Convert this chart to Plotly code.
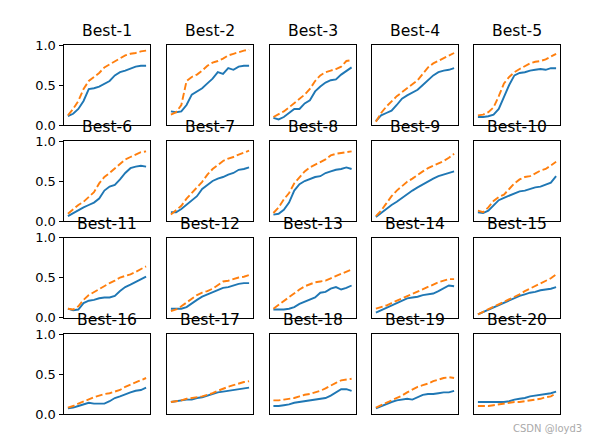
import plotly.graph_objects as go
from plotly.subplots import make_subplots

titles = [f"Best-{i}" for i in range(1, 21)]
y_tick_vals = [0.0, 0.5, 1.0]
y_tick_text = ["0.0", "0.5", "1.0"]

blue_01 = [0.11, 0.14, 0.2, 0.3, 0.45, 0.46, 0.48, 0.52, 0.55, 0.62, 0.66, 0.68, 0.71, 0.73, 0.74, 0.74]
orange_01 = [0.12, 0.2, 0.3, 0.45, 0.55, 0.6, 0.65, 0.72, 0.76, 0.79, 0.83, 0.87, 0.89, 0.9, 0.92, 0.93]
blue_02 = [0.17, 0.16, 0.17, 0.25, 0.38, 0.42, 0.46, 0.52, 0.58, 0.66, 0.64, 0.71, 0.69, 0.73, 0.74, 0.74]
orange_02 = [0.13, 0.16, 0.25, 0.55, 0.6, 0.63, 0.68, 0.74, 0.78, 0.8, 0.83, 0.87, 0.89, 0.91, 0.93, 0.94]
blue_03 = [0.09, 0.07, 0.1, 0.15, 0.2, 0.2, 0.27, 0.31, 0.42, 0.48, 0.53, 0.56, 0.57, 0.63, 0.67, 0.72]
orange_03 = [0.1, 0.13, 0.17, 0.22, 0.27, 0.33, 0.38, 0.45, 0.55, 0.62, 0.66, 0.68, 0.7, 0.73, 0.8, 0.81]
blue_04 = [0.05, 0.12, 0.15, 0.18, 0.25, 0.33, 0.37, 0.41, 0.44, 0.5, 0.56, 0.62, 0.66, 0.68, 0.69, 0.71]
orange_04 = [0.04, 0.15, 0.23, 0.3, 0.36, 0.41, 0.46, 0.51, 0.56, 0.64, 0.72, 0.77, 0.8, 0.83, 0.87, 0.9]
blue_05 = [0.1, 0.1, 0.11, 0.13, 0.2, 0.35, 0.5, 0.62, 0.65, 0.66, 0.68, 0.69, 0.7, 0.69, 0.71, 0.71]
orange_05 = [0.12, 0.13, 0.16, 0.22, 0.36, 0.52, 0.6, 0.66, 0.7, 0.74, 0.77, 0.79, 0.8, 0.82, 0.85, 0.89]
blue_06 = [0.06, 0.1, 0.14, 0.17, 0.2, 0.23, 0.28, 0.38, 0.43, 0.45, 0.52, 0.6, 0.66, 0.68, 0.69, 0.68]
orange_06 = [0.09, 0.15, 0.2, 0.24, 0.3, 0.36, 0.47, 0.55, 0.6, 0.66, 0.72, 0.77, 0.8, 0.83, 0.86, 0.87]
blue_07 = [0.11, 0.11, 0.15, 0.2, 0.25, 0.31, 0.4, 0.45, 0.5, 0.53, 0.55, 0.58, 0.6, 0.64, 0.65, 0.67]
orange_07 = [0.08, 0.13, 0.19, 0.28, 0.35, 0.41, 0.49, 0.58, 0.65, 0.7, 0.75, 0.78, 0.8, 0.83, 0.86, 0.88]
blue_08 = [0.08, 0.09, 0.14, 0.23, 0.38, 0.46, 0.5, 0.53, 0.55, 0.56, 0.6, 0.62, 0.64, 0.65, 0.67, 0.65]
orange_08 = [0.1, 0.17, 0.27, 0.35, 0.47, 0.54, 0.62, 0.67, 0.7, 0.74, 0.77, 0.82, 0.84, 0.85, 0.86, 0.87]
blue_09 = [0.05, 0.1, 0.16, 0.2, 0.24, 0.29, 0.33, 0.38, 0.42, 0.46, 0.5, 0.53, 0.56, 0.58, 0.6, 0.62]
orange_09 = [0.06, 0.13, 0.22, 0.31, 0.38, 0.44, 0.49, 0.53, 0.58, 0.62, 0.66, 0.69, 0.71, 0.75, 0.79, 0.84]
blue_10 = [0.11, 0.1, 0.13, 0.2, 0.26, 0.29, 0.32, 0.34, 0.37, 0.38, 0.4, 0.42, 0.43, 0.46, 0.48, 0.56]
orange_10 = [0.13, 0.11, 0.17, 0.25, 0.3, 0.33, 0.4, 0.47, 0.52, 0.55, 0.56, 0.6, 0.63, 0.65, 0.69, 0.74]
blue_11 = [0.11, 0.09, 0.1, 0.18, 0.21, 0.22, 0.24, 0.25, 0.25, 0.27, 0.33, 0.38, 0.41, 0.44, 0.48, 0.51]
orange_11 = [0.11, 0.1, 0.14, 0.22, 0.28, 0.32, 0.36, 0.4, 0.43, 0.46, 0.5, 0.52, 0.54, 0.57, 0.6, 0.64]
blue_12 = [0.11, 0.11, 0.11, 0.13, 0.18, 0.22, 0.26, 0.29, 0.32, 0.35, 0.37, 0.38, 0.4, 0.42, 0.43, 0.43]
orange_12 = [0.08, 0.1, 0.14, 0.19, 0.23, 0.28, 0.31, 0.33, 0.36, 0.41, 0.45, 0.46, 0.48, 0.5, 0.51, 0.53]
blue_13 = [0.1, 0.1, 0.1, 0.11, 0.13, 0.17, 0.2, 0.22, 0.25, 0.31, 0.32, 0.36, 0.38, 0.35, 0.37, 0.4]
orange_13 = [0.11, 0.16, 0.21, 0.25, 0.3, 0.35, 0.39, 0.42, 0.44, 0.45, 0.46, 0.49, 0.52, 0.55, 0.57, 0.6]
blue_14 = [0.06, 0.09, 0.12, 0.15, 0.18, 0.21, 0.24, 0.25, 0.26, 0.28, 0.29, 0.3, 0.33, 0.37, 0.4, 0.39]
orange_14 = [0.11, 0.13, 0.15, 0.18, 0.21, 0.24, 0.27, 0.3, 0.33, 0.36, 0.39, 0.41, 0.44, 0.46, 0.48, 0.48]
blue_15 = [0.04, 0.07, 0.1, 0.13, 0.16, 0.19, 0.21, 0.24, 0.27, 0.29, 0.31, 0.32, 0.34, 0.35, 0.36, 0.38]
orange_15 = [0.04, 0.07, 0.1, 0.13, 0.16, 0.19, 0.23, 0.26, 0.29, 0.33, 0.36, 0.4, 0.43, 0.46, 0.49, 0.54]
blue_16 = [0.07, 0.08, 0.1, 0.12, 0.14, 0.13, 0.13, 0.13, 0.16, 0.2, 0.22, 0.25, 0.27, 0.29, 0.3, 0.33]
orange_16 = [0.08, 0.1, 0.13, 0.16, 0.19, 0.21, 0.23, 0.25, 0.26, 0.28, 0.3, 0.34, 0.37, 0.39, 0.42, 0.45]
blue_17 = [0.15, 0.16, 0.17, 0.18, 0.18, 0.2, 0.21, 0.23, 0.25, 0.27, 0.28, 0.29, 0.3, 0.31, 0.32, 0.33]
orange_17 = [0.15, 0.16, 0.17, 0.19, 0.2, 0.21, 0.22, 0.24, 0.26, 0.29, 0.32, 0.34, 0.36, 0.38, 0.4, 0.41]
blue_18 = [0.1, 0.1, 0.11, 0.12, 0.14, 0.15, 0.16, 0.17, 0.18, 0.19, 0.2, 0.23, 0.27, 0.31, 0.31, 0.29]
orange_18 = [0.17, 0.17, 0.18, 0.19, 0.2, 0.22, 0.24, 0.25, 0.27, 0.29, 0.32, 0.36, 0.39, 0.42, 0.43, 0.44]
blue_19 = [0.07, 0.1, 0.13, 0.15, 0.17, 0.18, 0.19, 0.18, 0.21, 0.24, 0.25, 0.25, 0.26, 0.27, 0.27, 0.29]
orange_19 = [0.08, 0.11, 0.14, 0.17, 0.19, 0.23, 0.27, 0.31, 0.34, 0.36, 0.38, 0.41, 0.43, 0.45, 0.46, 0.45]
blue_20 = [0.15, 0.15, 0.15, 0.15, 0.15, 0.15, 0.16, 0.18, 0.19, 0.2, 0.22, 0.23, 0.24, 0.25, 0.26, 0.28]
orange_20 = [0.1, 0.1, 0.1, 0.11, 0.12, 0.13, 0.14, 0.15, 0.15, 0.16, 0.17, 0.18, 0.19, 0.21, 0.22, 0.26]

blue_series = [blue_01, blue_02, blue_03, blue_04, blue_05, blue_06, blue_07, blue_08, blue_09, blue_10,
               blue_11, blue_12, blue_13, blue_14, blue_15, blue_16, blue_17, blue_18, blue_19, blue_20]
orange_series = [orange_01, orange_02, orange_03, orange_04, orange_05, orange_06, orange_07, orange_08, orange_09, orange_10,
                 orange_11, orange_12, orange_13, orange_14, orange_15, orange_16, orange_17, orange_18, orange_19, orange_20]

W, H = 600, 443
col_left = [64, 167, 269.5, 372, 474]
row_top = [45, 141, 237.5, 334]
box_w, box_h = 86, 80

fig = make_subplots(rows=4, cols=5)
n = len(blue_01)
xs = list(range(n))
pad = (n - 1) * 0.05

for i in range(20):
    r, c = i // 5, i % 5
    fig.add_trace(go.Scatter(x=xs, y=blue_series[i], mode="lines",
                             line=dict(color="#1f77b4", width=1.9), showlegend=False),
                  row=r + 1, col=c + 1)
    fig.add_trace(go.Scatter(x=xs, y=orange_series[i], mode="lines",
                             line=dict(color="#ff7f0e", width=1.9, dash="7px,3px"), showlegend=False),
                  row=r + 1, col=c + 1)
    idx = "" if i == 0 else str(i + 1)
    x0 = col_left[c] / W
    x1 = (col_left[c] + box_w) / W
    y1 = 1 - row_top[r] / H
    y0 = 1 - (row_top[r] + box_h) / H
    fig.layout["xaxis" + idx].update(domain=[x0, x1], range=[-pad, n - 1 + pad], automargin=False,
                                      showticklabels=False, ticks="", showgrid=False, zeroline=False,
                                      showline=True, mirror=True, linecolor="black", linewidth=1)
    yopts = dict(domain=[y0, y1], range=[0, 1], showgrid=False, zeroline=False, automargin=False,
                 showline=True, mirror=True, linecolor="black", linewidth=1)
    if c == 0:
        yopts.update(tickvals=y_tick_vals, ticktext=y_tick_text, ticks="outside", ticklen=4.5,
                     tickwidth=1, tickcolor="black", showticklabels=True,
                     tickfont=dict(family="DejaVu Sans", size=13, color="black"))
    else:
        yopts.update(showticklabels=False, ticks="")
    fig.layout["yaxis" + idx].update(**yopts)
    fig.add_annotation(text=titles[i], xref="paper", yref="paper",
                       x=(x0 + x1) / 2, y=y1, xanchor="center", yanchor="bottom",
                       yshift=3, showarrow=False,
                       font=dict(family="DejaVu Sans", size=15.6, color="black"))

fig.add_annotation(text="CSDN @loyd3", xref="paper", yref="paper", x=584 / W, y=1 - 428 / H,
                   xanchor="right", yanchor="middle", showarrow=False,
                   font=dict(family="DejaVu Sans", size=10, color="#aaaaaa"))

fig.update_layout(width=W, height=H, margin=dict(l=0, r=0, t=0, b=0, autoexpand=False),
                  paper_bgcolor="white", plot_bgcolor="white")
fig.write_html(
    "out.html",
    config={"displayModeBar": False},
    post_script=(
        "document.body.style.margin='0';"
        "document.body.style.overflow='hidden';"
    ),
)
